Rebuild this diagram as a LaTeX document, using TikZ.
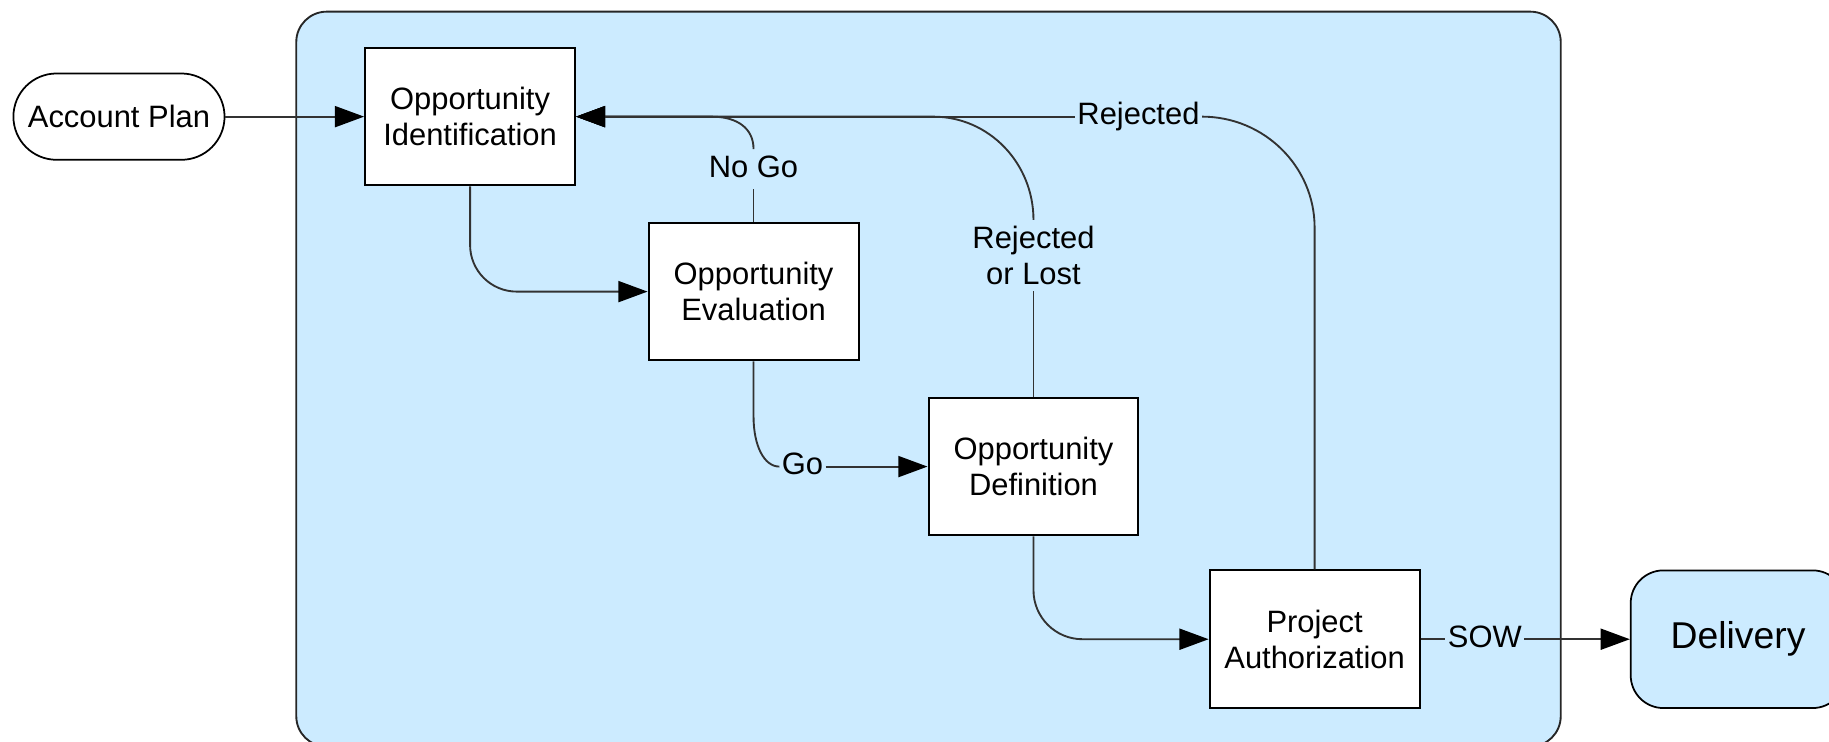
\documentclass[tikz,border=0pt]{standalone}
\usepackage{fontspec}
\setmainfont{Liberation Sans}
\usetikzlibrary{arrows.meta}
\definecolor{bluebg}{RGB}{204,235,255}
\definecolor{edgecol}{RGB}{50,50,50}
\begin{document}
\begin{tikzpicture}[x=1pt,y=-1pt,
  font=\fontsize{26.5}{31}\selectfont,
  procbox/.style={draw=black, fill=white, line width=1.7pt, minimum width=180pt, minimum height=118pt, align=center, inner sep=0pt},
  termbox/.style={draw=black, line width=1.5pt, align=center, inner sep=0pt},
  lblbase/.style={inner xsep=2pt, inner ysep=5pt, align=center},
  lbl/.style={lblbase, text height=19pt, text depth=5pt},
  ln/.style={draw=edgecol, line width=1.6pt},
  arr/.style={ln, -{Triangle[length=25pt,width=18pt,fill=black,color=black]}}
]
\useasboundingbox (0,0) rectangle (1568,636);
\clip (0,0) rectangle (1568,636);

% container
\draw[fill=bluebg, draw=black!85, line width=1.6pt, rounded corners=26pt] (254,10) rectangle (1338,640);

% nodes
\node[termbox, fill=white, minimum width=181pt, minimum height=74pt, rounded corners=37pt] (acct) at (102,100) {Account Plan};
\node[procbox] (oppid) at (403,100) {Opportunity\\Identification};
\node[procbox] (eval) at (646,250) {Opportunity\\Evaluation};
\node[procbox] (def) at (886,400) {Opportunity\\Definition};
\node[procbox] (auth) at (1127,548) {Project\\Authorization};
\node[termbox, fill=bluebg, minimum width=184pt, minimum height=118pt, rounded corners=28pt, font=\fontsize{32}{38}\selectfont] (deliv) at (1490,548) {Delivery};

% labels
\node[lbl] (nogo) at (646,145) {No Go};
\node[lblbase] (rol) at (886,219) {Rejected\\or Lost};
\node[lbl] (rej) at (976,100) {Rejected};
\node[lbl] (go) at (688,400) {Go};
\node[lbl] (sow) at (1273,548) {SOW};

% junction coordinates
\coordinate (j1) at (610,100);
\coordinate (j2) at (800,100);
\coordinate (j3) at (1127,195);
\coordinate (j4) at (646,357);

% connectors
\draw[arr] (acct) -- (oppid);
\draw[arr, rounded corners=40pt] (oppid.south) |- (eval.west);
\draw[ln] (eval.north) -- (nogo.south);
\draw[arr] (nogo.north) .. controls (646,110) and (632,100) .. (j1) -- (oppid.east);
\draw[ln] (def.north) -- (rol.south);
\draw[arr] (rol.north) .. controls (886,140) and (848,100) .. (j2) -- (oppid.east);
\draw[ln] (auth.north) -- (j3) .. controls (1127,143) and (1084,100) .. (rej.east);
\draw[arr] (rej.west) -- (oppid.east);
\draw[ln] (eval.south) -- (j4) .. controls (646,382) and (655,400) .. (go.west);
\draw[arr] (go.east) -- (def.west);
\draw[arr, rounded corners=42pt] (def.south) |- (auth.west);
\draw[ln] (auth.east) -- (sow.west);
\draw[arr] (sow.east) -- (deliv.west);
\end{tikzpicture}
\end{document}
